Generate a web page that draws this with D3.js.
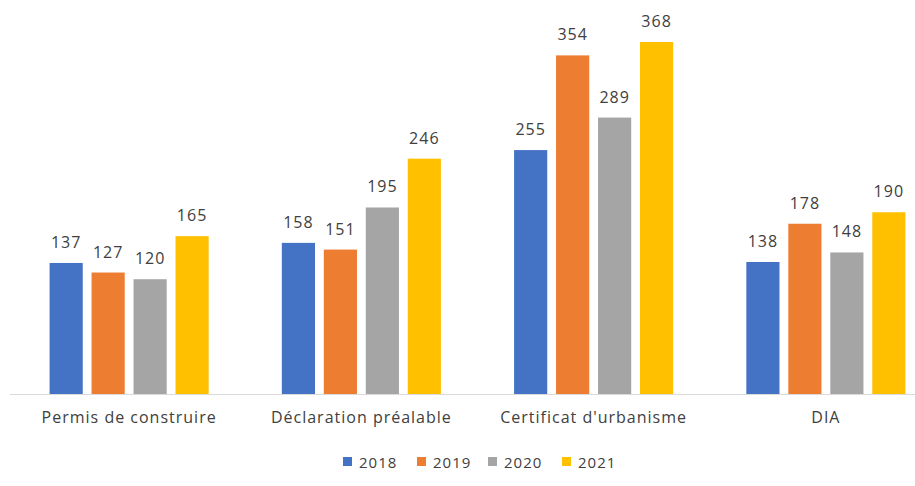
<!DOCTYPE html>
<html lang="fr">
<head>
  <meta charset="UTF-8">
  <title>Autorisations d'urbanisme</title>
  <script src="https://d3js.org/d3.v7.min.js"></script>
  <style>
    body {
      margin: 0;
      background: #fff;
      font-family: "Open Sans", Arial, sans-serif;
    }
    svg text {
      fill: #404040;
      letter-spacing: 1px;
    }
  </style>
</head>
<body>
  <svg width="915" height="486"></svg>
  <script>
    // Data
    const categories = ["Permis de construire", "Déclaration préalable", "Certificat d'urbanisme", "DIA"];
    const years = ["2018", "2019", "2020", "2021"];
    const values2018 = [137, 158, 255, 138];
    const values2019 = [127, 151, 354, 178];
    const values2020 = [120, 195, 289, 148];
    const values2021 = [165, 246, 368, 190];
    const colors = ["#4472C4", "#ED7D31", "#A5A5A5", "#FFC000"];

    const series = [values2018, values2019, values2020, values2021];
    const data = categories.map((c, i) => ({
      cat: c,
      vals: years.map((y, j) => ({ year: y, value: series[j][i] }))
    }));

    const svg = d3.select("svg");
    const baseline = 394;

    const x0 = d3.scaleBand()
      .domain(categories)
      .range([13, 942])
      .paddingInner(0.315)
      .paddingOuter(0.1575);

    const x1 = d3.scaleBand()
      .domain(years)
      .range([0, x0.bandwidth()])
      .paddingInner(0.21);

    const y = d3.scaleLinear()
      .domain([0, 368])
      .range([baseline, 42]);

    const color = d3.scaleOrdinal().domain(years).range(colors);

    // Bars
    const groups = svg.selectAll(".group")
      .data(data)
      .enter().append("g")
      .attr("class", "group")
      .attr("transform", d => `translate(${x0(d.cat)},0)`);

    groups.selectAll("rect")
      .data(d => d.vals)
      .enter().append("rect")
      .attr("x", d => x1(d.year))
      .attr("y", d => y(d.value))
      .attr("width", x1.bandwidth())
      .attr("height", d => baseline - y(d.value))
      .attr("fill", d => color(d.year));

    // Value labels
    groups.selectAll(".label")
      .data(d => d.vals)
      .enter().append("text")
      .attr("class", "label")
      .attr("x", d => x1(d.year) + x1.bandwidth() / 2)
      .attr("y", d => y(d.value) - 15)
      .attr("text-anchor", "middle")
      .style("font-size", "16px")
      .text(d => d.value);

    // X axis
    const xAxis = svg.append("g")
      .attr("transform", `translate(0,${baseline})`)
      .call(d3.axisBottom(x0).tickSize(0).tickPadding(18));
    xAxis.select(".domain").attr("stroke", "#D9D9D9").attr("d", "M10,0.5H915");
    xAxis.selectAll("text")
      .style("font-size", "16px")
      .style("font-family", "'Open Sans', Arial, sans-serif")
      .attr("fill", "#404040");

    // Legend
    const legendX = [343, 417, 488, 562];
    const legend = svg.append("g")
      .selectAll("g")
      .data(years)
      .enter().append("g")
      .attr("transform", (d, i) => `translate(${legendX[i]},462)`);
    legend.append("rect")
      .attr("x", 0).attr("y", -5)
      .attr("width", 9).attr("height", 9)
      .attr("fill", d => color(d));
    legend.append("text")
      .attr("x", 16).attr("y", 5.5)
      .style("font-size", "15px")
      .text(d => d);
  </script>
</body>
</html>
